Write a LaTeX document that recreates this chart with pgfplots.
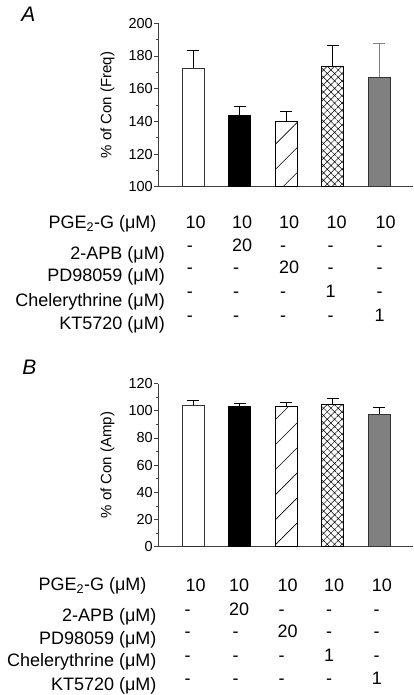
\documentclass[border=0pt]{standalone}
\usepackage{fontspec}
\setmainfont{Liberation Sans}
\usepackage{pgfplots}
\pgfplotsset{compat=1.18}
\usetikzlibrary{patterns.meta}

\begin{document}
\begin{tikzpicture}[x=1pt,y=1pt]
\useasboundingbox (0,0) rectangle (413,-695);
\pgfplotsset{
 panel/.style={
  scale only axis, width=255pt,
  xmin=0.247, xmax=5.731,
  axis lines*=left,
  axis line style={line width=0.8pt, black!75},
  xtick=\empty,
  minor y tick num=1,
  tick align=outside,
  major tick length=4pt, minor tick length=2.5pt,
  tick style={line width=0.8pt, black!75},
  yticklabel style={font=\fontsize{14.5}{16}\selectfont, inner sep=1pt},
  /pgf/number format/assume math mode=true,
  every axis y label/.style={at={(axis description cs:-0.198,0.5)}, rotate=90, anchor=center, font=\fontsize{15}{17}\selectfont},
  error bars/y dir=plus, error bars/y explicit,
  error bars/error bar style={line width=0.8pt, black},
  error bars/error mark options={rotate=90, mark size=6pt, line width=0.8pt, black},
 },
 mybar/.style={ybar, bar width=22pt, draw=black, line width=0.7pt},
}

% ---------------- Panel A ----------------
\begin{axis}[panel, at={(158pt,-186.7pt)}, anchor=south west,
  height=163.4pt, ymin=100, ymax=200, ytick={100,120,...,200},
  ylabel={\% of Con (Freq)}]
\addplot[mybar, fill=white, draw=black!80] coordinates {(1,172.4) +- (0,11.3)};
\addplot[mybar, fill=black] coordinates {(2,143.9) +- (0,5.5)};
\addplot[mybar, pattern={Lines[angle=45,distance=17.7pt,line width=0.6pt]}, pattern color=black] coordinates {(3,140.0) +- (0,6.3)};
\addplot[mybar, pattern={Hatch[angle=45,distance=5.2pt,line width=0.5pt]}, pattern color=black] coordinates {(4,173.7) +- (0,13.0)};
\addplot[mybar, fill=black!50, draw=black!80, error bars/error bar style={line width=0.8pt, black!50}, error bars/error mark options={rotate=90, mark size=6pt, line width=0.8pt, black!50}] coordinates {(5,167.1) +- (0,20.3)};
\end{axis}

% ---------------- Panel B ----------------
\begin{axis}[panel, at={(158pt,-546.7pt)}, anchor=south west,
  height=163.2pt, ymin=0, ymax=120, ytick={0,20,...,120},
  ylabel={\% of Con (Amp)}]
\addplot[mybar, fill=white, draw=black!80] coordinates {(1,104.2) +- (0,3.4)};
\addplot[mybar, fill=black] coordinates {(2,102.9) +- (0,2.5)};
\addplot[mybar, pattern={Lines[angle=45,distance=17.7pt,line width=0.6pt]}, pattern color=black] coordinates {(3,103.4) +- (0,3.0)};
\addplot[mybar, pattern={Hatch[angle=45,distance=5.2pt,line width=0.5pt]}, pattern color=black] coordinates {(4,104.7) +- (0,4.4)};
\addplot[mybar, fill=black!50, draw=black!80] coordinates {(5,97.5) +- (0,5.0)};
\end{axis}

% panel letters
\node[font=\fontsize{21}{24}\selectfont\itshape] at (28.5,-14.5) {A};
\node[font=\fontsize{21}{24}\selectfont\itshape] at (29.5,-367.5) {B};

% ---------------- Table A ----------------
\begin{scope}[every node/.style={font=\fontsize{18}{20}\selectfont, inner sep=0pt}]
\node[anchor=base east] at (156.7,-228.3) {PGE\textsubscript{2}-G (μM)};
\node[anchor=base east] at (165,-259) {2-APB (μM)};
\node[anchor=base east] at (165,-281.5) {PD98059 (μM)};
\node[anchor=base east] at (165,-306) {Chelerythrine (μM)};
\node[anchor=base east] at (165,-329) {KT5720 (μM)};
% row 1
\node[anchor=base west] at (185.5,-228.3) {10};
\node[anchor=base west] at (232,-228.3) {10};
\node[anchor=base west] at (279,-228.3) {10};
\node[anchor=base west] at (326.5,-228.3) {10};
\node[anchor=base west] at (375.5,-228.3) {10};
% row 2
\node[anchor=base west] at (186.7,-251) {-};
\node[anchor=base west] at (232,-251) {20};
\node[anchor=base west] at (280,-251) {-};
\node[anchor=base west] at (327.5,-251) {-};
\node[anchor=base west] at (376.5,-251) {-};
% row 3
\node[anchor=base west] at (186.7,-273.5) {-};
\node[anchor=base west] at (233,-273.5) {-};
\node[anchor=base west] at (279,-273.5) {20};
\node[anchor=base west] at (327.5,-273.5) {-};
\node[anchor=base west] at (376.5,-273.5) {-};
% row 4
\node[anchor=base west] at (186.7,-297.5) {-};
\node[anchor=base west] at (233,-297.5) {-};
\node[anchor=base west] at (280,-297.5) {-};
\node[anchor=base west] at (325.5,-297.5) {1};
\node[anchor=base west] at (376.5,-297.5) {-};
% row 5
\node[anchor=base west] at (186.7,-321) {-};
\node[anchor=base west] at (233,-321) {-};
\node[anchor=base west] at (280,-321) {-};
\node[anchor=base west] at (327.5,-321) {-};
\node[anchor=base west] at (374.5,-321) {1};

% ---------------- Table B ----------------
\node[anchor=base east] at (146.7,-590.7) {PGE\textsubscript{2}-G (μM)};
\node[anchor=base east] at (156.7,-621.7) {2-APB (μM)};
\node[anchor=base east] at (156.7,-644) {PD98059 (μM)};
\node[anchor=base east] at (156.7,-666.7) {Chelerythrine (μM)};
\node[anchor=base east] at (156.7,-690) {KT5720 (μM)};
% row 1
\node[anchor=base west] at (185.5,-591.7) {10};
\node[anchor=base west] at (229,-591.7) {10};
\node[anchor=base west] at (277.3,-591.7) {10};
\node[anchor=base west] at (324,-591.7) {10};
\node[anchor=base west] at (371.7,-591.7) {10};
% row 2
\node[anchor=base west] at (184.3,-615) {-};
\node[anchor=base west] at (229,-615) {20};
\node[anchor=base west] at (278.3,-615) {-};
\node[anchor=base west] at (326,-615) {-};
\node[anchor=base west] at (373.3,-615) {-};
% row 3
\node[anchor=base west] at (184.3,-637.3) {-};
\node[anchor=base west] at (232.3,-637.3) {-};
\node[anchor=base west] at (277.3,-637.3) {20};
\node[anchor=base west] at (326,-637.3) {-};
\node[anchor=base west] at (373.3,-637.3) {-};
% row 4
\node[anchor=base west] at (184.3,-661.7) {-};
\node[anchor=base west] at (232.3,-661.7) {-};
\node[anchor=base west] at (278.3,-661.7) {-};
\node[anchor=base west] at (324,-661.7) {1};
\node[anchor=base west] at (373.3,-661.7) {-};
% row 5
\node[anchor=base west] at (184.3,-684) {-};
\node[anchor=base west] at (232.3,-684) {-};
\node[anchor=base west] at (278.3,-684) {-};
\node[anchor=base west] at (326,-684) {-};
\node[anchor=base west] at (371.7,-684) {1};
\end{scope}
\end{tikzpicture}
\end{document}
